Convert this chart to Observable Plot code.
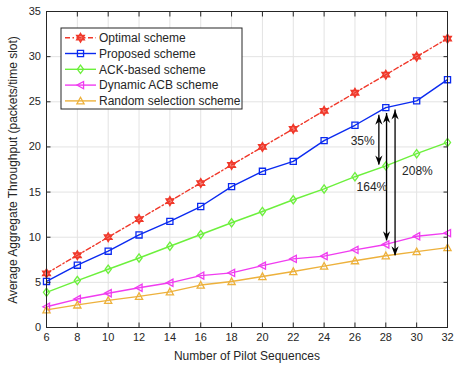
<!DOCTYPE html>
<html>
<head>
<meta charset="utf-8">
<script src="https://cdn.jsdelivr.net/npm/d3@7"></script>
<script src="https://cdn.jsdelivr.net/npm/@observablehq/plot@0.6"></script>
<style>
  html, body { margin: 0; padding: 0; background: #fff; }
  #chart { width: 464px; height: 368px; }
  svg { font-family: "Liberation Sans", Arial, sans-serif; }
</style>
</head>
<body>
<div id="chart"></div>
<script>
// ---- data ----
const pilots = [6, 8, 10, 12, 14, 16, 18, 20, 22, 24, 26, 28, 30, 32];
const optimal = [6, 8, 10, 12, 14, 16, 18, 20, 22, 24, 26, 28, 30, 32];
const proposed = [5.1, 6.9, 8.45, 10.25, 11.75, 13.4, 15.6, 17.3, 18.4, 20.7, 22.4, 24.35, 25.1, 27.45];
const ackBased = [3.9, 5.2, 6.45, 7.7, 9.0, 10.3, 11.6, 12.85, 14.15, 15.35, 16.7, 17.9, 19.25, 20.5];
const dynamicACB = [2.3, 3.15, 3.8, 4.4, 4.95, 5.75, 6.05, 6.85, 7.6, 7.9, 8.6, 9.2, 10.1, 10.45];
const randomSel = [1.95, 2.5, 3.0, 3.45, 3.95, 4.7, 5.1, 5.65, 6.2, 6.8, 7.4, 7.95, 8.4, 8.85];
const seriesNames = ["Optimal scheme", "Proposed scheme", "ACK-based scheme", "Dynamic ACB scheme", "Random selection scheme"];
const xTicks = [6, 8, 10, 12, 14, 16, 18, 20, 22, 24, 26, 28, 30, 32];
const yTicks = [0, 5, 10, 15, 20, 25, 30, 35];
// annotation arrows (double-headed) and labels
const arrowX = [27.55, 28.05, 28.6];
const arrowTop = [23.5, 23.7, 24.1];
const arrowBottom = [18.0, 9.6, 7.95];
const labelText = ["35%", "164%", "208%"];
const labelX = [26.5, 27.1, 30.05];
const labelY = [20.6, 15.5, 17.3];

// ---- styles ----
const colors = ["#f0392b", "#0a2af0", "#6cf03c", "#f03cf0", "#edb13c"];
const dashes = ["5,2.5,1.5,2.5", null, null, null, null];

// custom symbols (size = pi r^2)
const rad = s => Math.sqrt(s / Math.PI);
const hexagram = { draw(c, s) { const r = rad(s) * 1.25;
  for (const rot of [-Math.PI / 2, Math.PI / 2]) {
    for (let i = 0; i < 3; i++) { const a = rot + i * 2 * Math.PI / 3;
      const px = r * Math.cos(a), py = r * Math.sin(a);
      if (i === 0) c.moveTo(px, py); else c.lineTo(px, py); }
    c.closePath(); } } };
const square = { draw(c, s) { const r = rad(s) * 0.85; c.moveTo(-r, -r); c.lineTo(r, -r); c.lineTo(r, r); c.lineTo(-r, r); c.closePath(); } };
const diamond = { draw(c, s) { const r = rad(s); c.moveTo(0, -r * 1.15); c.lineTo(r * 0.85, 0); c.lineTo(0, r * 1.15); c.lineTo(-r * 0.85, 0); c.closePath(); } };
const triLeft = { draw(c, s) { const r = rad(s); c.moveTo(-r, 0); c.lineTo(r * 0.85, -r); c.lineTo(r * 0.85, r); c.closePath(); } };
const triUp = { draw(c, s) { const r = rad(s); c.moveTo(0, -r); c.lineTo(r, r * 0.85); c.lineTo(-r, r * 0.85); c.closePath(); } };
const symbols = [hexagram, square, diamond, triLeft, triUp];
const headUp = { draw(c) { c.moveTo(0, 0); c.lineTo(3.6, 9.5); c.lineTo(0, 6.5); c.lineTo(-3.6, 9.5); c.closePath(); } };
const headDown = { draw(c) { c.moveTo(0, 0); c.lineTo(3.6, -9.5); c.lineTo(0, -6.5); c.lineTo(-3.6, -9.5); c.closePath(); } };

const allSeries = [optimal, proposed, ackBased, dynamicACB, randomSel];
const tables = allSeries.map((vals, k) => pilots.map((p, i) => ({ x: p, y: vals[i], k })));
const arrows = arrowX.map((x, i) => ({ x, top: arrowTop[i], bottom: arrowBottom[i] }));
const labels = labelText.map((t, i) => ({ x: labelX[i], y: labelY[i], t }));
const noLabel = () => "";

const marks = [
  Plot.gridX(xTicks, { stroke: "#e3e3e3", strokeOpacity: 1 }),
  Plot.gridY(yTicks, { stroke: "#e3e3e3", strokeOpacity: 1 }),
];
tables.forEach((t, k) => {
  marks.push(Plot.line(t, { x: "x", y: "y", stroke: colors[k], strokeWidth: 1.4, strokeDasharray: dashes[k] }));
  marks.push(Plot.dot(t, { x: "x", y: "y", stroke: colors[k], strokeWidth: 1.3, fill: k === 0 ? colors[k] : "none", fillOpacity: k === 0 ? 0.6 : 1, r: 3.6, symbol: () => symbols[k] }));
});
marks.push(
  Plot.ruleX(arrows, { x: "x", y1: "top", y2: "bottom", stroke: "#000", strokeWidth: 1.3 }),
  Plot.dot(arrows, { x: "x", y: "top", symbol: () => headUp, fill: "#000", stroke: "none", r: 4 }),
  Plot.dot(arrows, { x: "x", y: "bottom", symbol: () => headDown, fill: "#000", stroke: "none", r: 4 }),
  Plot.text(labels, { x: "x", y: "y", text: "t", fontSize: 12, fill: "#262626" }),
  Plot.axisX(xTicks, { anchor: "bottom", tickSize: -4.5, tickPadding: 10, fontSize: 11, color: "#262626", label: null }),
  Plot.axisX(xTicks, { anchor: "top", tickSize: -4.5, tickFormat: noLabel, color: "#262626", label: null }),
  Plot.axisY(yTicks, { anchor: "left", tickSize: -4.5, tickPadding: 10, fontSize: 11, color: "#262626", label: null }),
  Plot.axisY(yTicks, { anchor: "right", tickSize: -4.5, tickFormat: noLabel, color: "#262626", label: null }),
  Plot.frame({ stroke: "#262626", strokeWidth: 1 })
);

const chart = Plot.plot({
  width: 464, height: 368,
  marginLeft: 46, marginRight: 17, marginTop: 11, marginBottom: 41,
  style: { fontFamily: "'Liberation Sans', Arial, sans-serif", background: "#fff", overflow: "visible" },
  x: { domain: [6, 32] },
  y: { domain: [0, 35] },
  marks
});
document.getElementById("chart").appendChild(chart);

// axis titles and legend drawn into the same svg
const svg = d3.select(chart);
svg.append("text").attr("x", 247).attr("y", 360).attr("text-anchor", "middle")
  .attr("font-size", 12).attr("fill", "#262626").text("Number of Pilot Sequences");
svg.append("text").attr("transform", "translate(17,170) rotate(-90)").attr("text-anchor", "middle")
  .attr("font-size", 12).attr("fill", "#262626").text("Average Aggregate Throughput (packets/time slot)");

const lg = svg.append("g").attr("transform", "translate(61,28)").attr("text-anchor", "start");
lg.append("rect").attr("width", 181).attr("height", 81).attr("fill", "#fff").attr("stroke", "#262626").attr("stroke-width", 1);
seriesNames.forEach((name, k) => {
  const yy = 9.7 + k * 15.8;
  lg.append("line").attr("x1", 4).attr("x2", 35).attr("y1", yy).attr("y2", yy)
    .attr("stroke", colors[k]).attr("stroke-width", 1.4).attr("stroke-dasharray", dashes[k]);
  lg.append("path").attr("d", d3.symbol(symbols[k], Math.PI * 3.6 * 3.6)())
    .attr("transform", `translate(19.5,${yy})`).attr("stroke", colors[k]).attr("stroke-width", 1.3)
    .attr("fill", k === 0 ? colors[k] : "none").attr("fill-opacity", k === 0 ? 0.6 : 1);
  lg.append("text").attr("x", 38).attr("y", yy).attr("dy", "0.36em").attr("font-size", 12)
    .attr("text-anchor", "start").attr("fill", "#262626").text(name);
});
</script>
</body>
</html>
